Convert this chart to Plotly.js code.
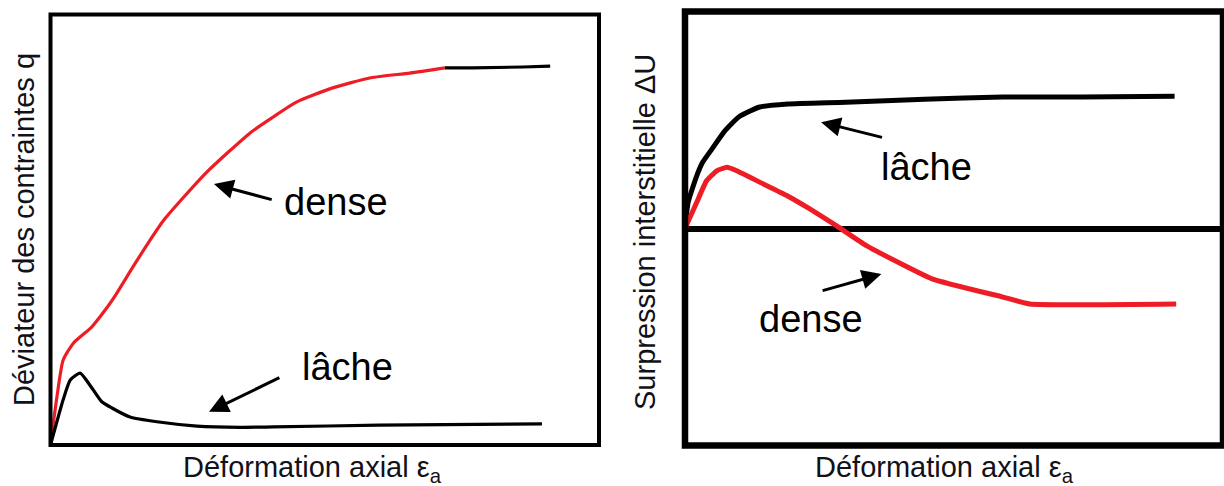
<!DOCTYPE html>
<html>
<head>
<meta charset="utf-8">
<script src="https://cdn.plot.ly/plotly-3.0.1.min.js"></script>
<style>
  html, body { margin: 0; padding: 0; background: #fff; }
  #chart { width: 1224px; height: 486px; }
</style>
</head>
<body>
<div id="chart"></div>
<script>
// Deviator stress q vs axial strain (left panel)
const epsQDense = [0, 0.11, 0.23, 0.42, 0.75, 1.00, 1.21, 1.50, 1.78, 2.07, 2.43, 2.85, 3.64, 4.06, 4.49, 5.13, 5.84, 6.55, 7.19];
const qDense    = [0, 1.05, 1.97, 2.37, 2.74, 3.14, 3.53, 4.13, 4.69, 5.23, 5.76, 6.34, 7.25, 7.62, 7.97, 8.29, 8.53, 8.64, 8.76];
const epsQDenseTail = [7.19, 7.70, 8.61, 9.11];
const qDenseTail    = [8.76, 8.76, 8.78, 8.80];
const epsQLoose = [0, 0.11, 0.23, 0.36, 0.54, 0.72, 0.93, 1.12, 1.45, 1.94, 2.67, 3.45, 4.06, 5.99, 8.96];
const qLoose    = [0, 0.51, 1.05, 1.51, 1.67, 1.39, 1.01, 0.86, 0.65, 0.54, 0.44, 0.41, 0.42, 0.46, 0.49];

// Excess pore pressure ΔU vs axial strain (right panel)
const epsULoose = [0, 0.06, 0.22, 0.33, 0.50, 0.74, 1.00, 1.39, 1.91, 2.99, 4.45, 5.91, 7.36, 9.10];
const uLoose    = [0, 0.61, 1.22, 1.53, 1.83, 2.25, 2.57, 2.80, 2.87, 2.91, 2.98, 3.03, 3.03, 3.05];
const epsUDense = [0, 0.22, 0.40, 0.59, 0.78, 0.96, 1.45, 1.89, 2.32, 2.82, 3.38, 4.59, 5.91, 6.41, 9.13];
const uDense    = [0, 0.61, 1.10, 1.33, 1.41, 1.33, 1.03, 0.76, 0.45, 0.06, -0.40, -1.16, -1.58, -1.74, -1.74];

// Text labels
const labelDense = 'dense';
const labelLoose = 'lâche';
const xTitle = 'Déformation axial ε<sub>a</sub>';
const yTitleLeft = 'Déviateur des contraintes q';
const yTitleRight = 'Surpression interstitielle ΔU';

const RED = '#ee1c25';
const INK = '#111118';
const FONT = 'Liberation Sans, Arial, sans-serif';

const traces = [
  { x: epsQDense, y: qDense, xaxis: 'x', yaxis: 'y', mode: 'lines',
    line: { color: RED, width: 3.2, shape: 'spline', smoothing: 0.6 } },
  { x: epsQDenseTail, y: qDenseTail, xaxis: 'x', yaxis: 'y', mode: 'lines',
    line: { color: '#000', width: 3.2 } },
  { x: epsQLoose, y: qLoose, xaxis: 'x', yaxis: 'y', mode: 'lines',
    line: { color: '#000', width: 3.2, shape: 'spline', smoothing: 0.5 } },
  { x: epsULoose, y: uLoose, xaxis: 'x2', yaxis: 'y2', mode: 'lines',
    line: { color: '#000', width: 5, shape: 'spline', smoothing: 0.5 } },
  { x: epsUDense, y: uDense, xaxis: 'x2', yaxis: 'y2', mode: 'lines',
    line: { color: RED, width: 5, shape: 'spline', smoothing: 0.4 } }
];

const hidden = { showgrid: false, zeroline: false, showticklabels: false, ticks: '', showline: false, fixedrange: true };

function arrow(xref, yref, x, y, ax, ay) {
  return { xref, yref, axref: xref, ayref: yref, x, y, ax, ay, text: '',
           showarrow: true, arrowhead: 2, arrowsize: 1.3, arrowwidth: 3, arrowcolor: '#000' };
}
function label(xref, yref, x, y, text) {
  return { xref, yref, x, y, text, showarrow: false, xanchor: 'center', yanchor: 'middle',
           font: { family: FONT, size: 38, color: '#000' } };
}
function axisTitle(px, py, text, angle) {
  return { xref: 'paper', yref: 'paper', x: px / 1224, y: (486 - py) / 486, text, textangle: angle,
           showarrow: false, xanchor: 'center', yanchor: 'middle', font: { family: FONT, size: 29, color: INK } };
}

const annotations = [
  label('x', 'y', 5.20, 5.64, labelDense),
  arrow('x', 'y', 2.98, 6.06, 4.06, 5.69),
  label('x', 'y', 5.42, 1.81, labelLoose),
  arrow('x', 'y', 2.89, 0.77, 4.20, 1.58),
  label('x2', 'y2', 4.48, 1.42, labelLoose),
  arrow('x2', 'y2', 2.53, 2.45, 3.69, 2.09),
  label('x2', 'y2', 2.34, -2.09, labelDense),
  arrow('x2', 'y2', 3.65, -1.05, 2.53, -1.44),
  axisTitle(312, 469, xTitle, 0),
  axisTitle(944, 469, xTitle, 0),
  axisTitle(24, 230, yTitleLeft, -90),
  axisTitle(645, 232, yTitleRight, -90)
];

const shapes = [
  { type: 'rect', xref: 'x domain', yref: 'y domain', x0: 0, x1: 1, y0: 0, y1: 1,
    line: { color: '#000', width: 4 }, layer: 'above' },
  { type: 'rect', xref: 'x2 domain', yref: 'y2 domain', x0: 0, x1: 1, y0: 0, y1: 1,
    line: { color: '#000', width: 6.5 }, layer: 'above' }
];

const layout = {
  width: 1224, height: 486,
  margin: { l: 0, r: 0, t: 0, b: 0 },
  paper_bgcolor: '#fff', plot_bgcolor: '#fff',
  showlegend: false,
  xaxis: Object.assign({}, hidden, { domain: [50.5 / 1224, 599 / 1224], range: [0, 10], anchor: 'y' }),
  yaxis: Object.assign({}, hidden, { domain: [(486 - 445) / 486, (486 - 14.5) / 486], range: [0, 10], anchor: 'x' }),
  xaxis2: Object.assign({}, hidden, { domain: [685 / 1224, 1223 / 1224], range: [0, 10], anchor: 'y2' }),
  yaxis2: Object.assign({}, hidden, { domain: [(486 - 445.5) / 486, (486 - 11.5) / 486], range: [-5, 5], anchor: 'x2',
    zeroline: true, zerolinecolor: '#000', zerolinewidth: 6 }),
  annotations, shapes
};

Plotly.newPlot('chart', traces, layout, { displayModeBar: false, staticPlot: true });
</script>
</body>
</html>
